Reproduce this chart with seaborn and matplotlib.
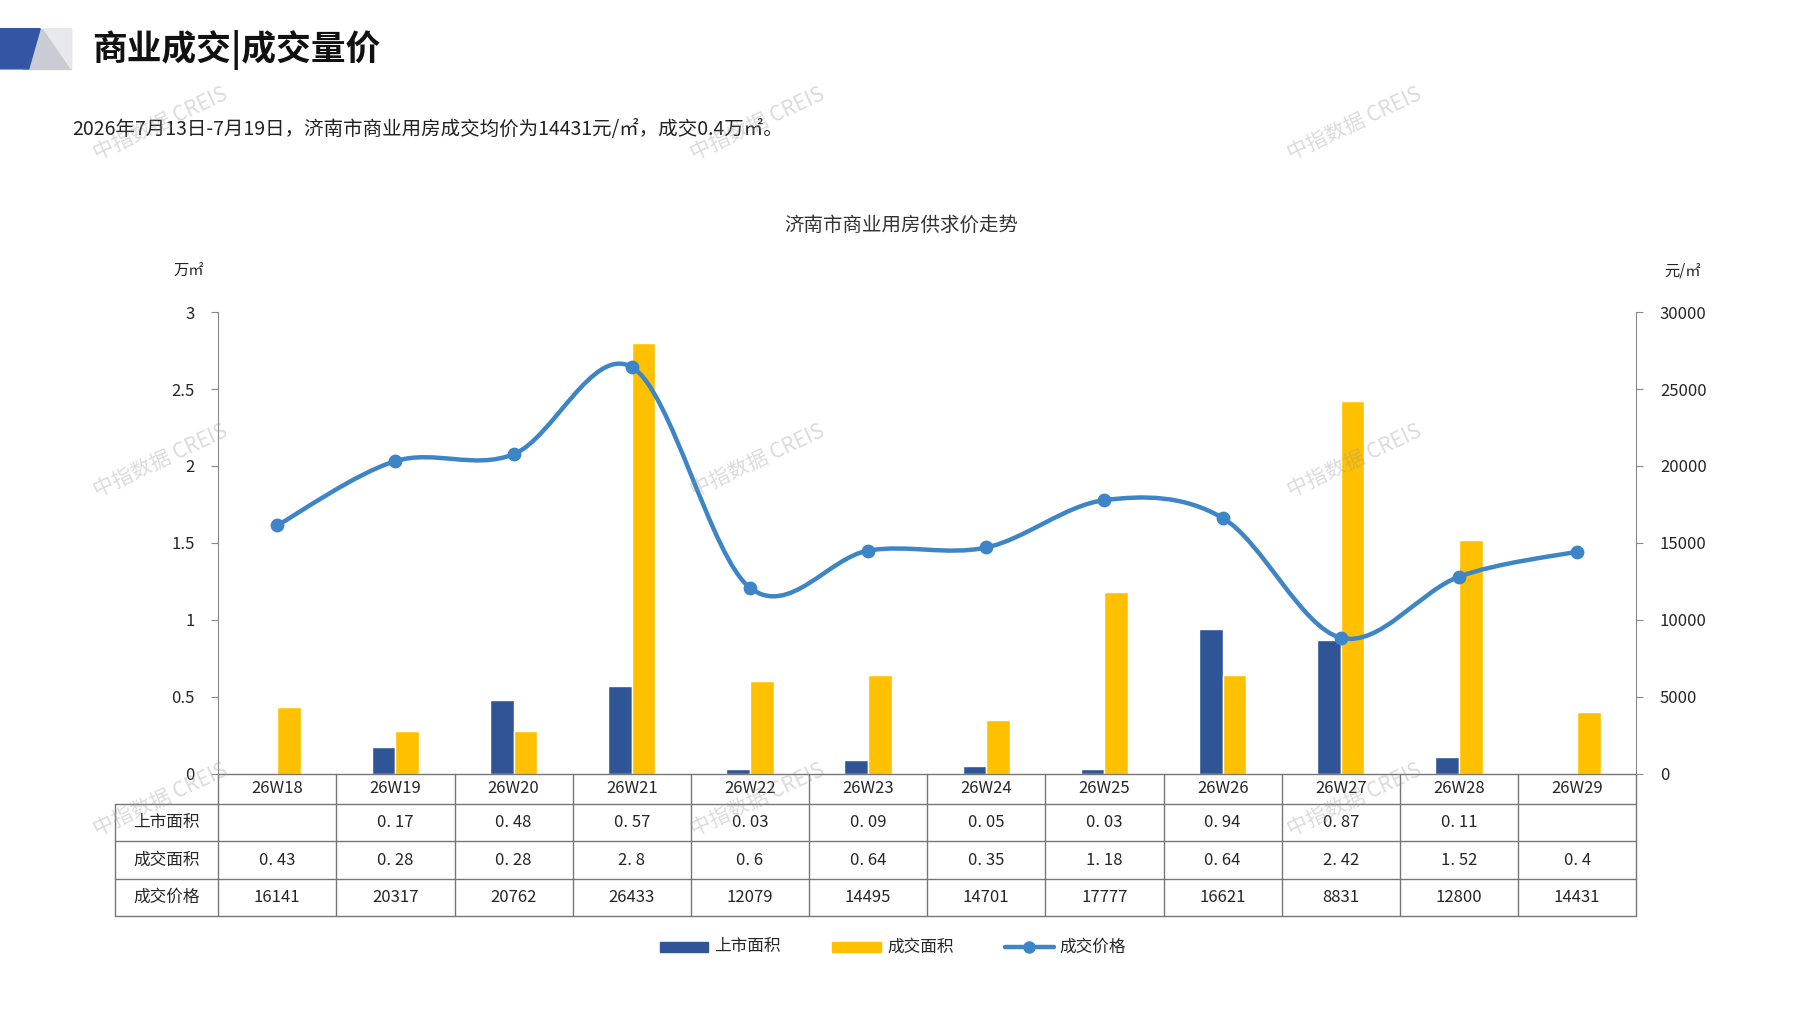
import numpy as np
import pandas as pd
import matplotlib
matplotlib.use('Agg')
import matplotlib.pyplot as plt
from matplotlib.path import Path
from matplotlib.patches import PathPatch, Polygon
from matplotlib.lines import Line2D
import seaborn as sns

weeks = ['26W18', '26W19', '26W20', '26W21', '26W22', '26W23', '26W24', '26W25',
         '26W26', '26W27', '26W28', '26W29']
supply = [np.nan, 0.17, 0.48, 0.57, 0.03, 0.09, 0.05, 0.03, 0.94, 0.87, 0.11, np.nan]
deal = [0.43, 0.28, 0.28, 2.8, 0.6, 0.64, 0.35, 1.18, 0.64, 2.42, 1.52, 0.4]
price = [16141, 20317, 20762, 26433, 12079, 14495, 14701, 17777, 16621, 8831, 12800, 14431]
row_names = ['上市面积', '成交面积', '成交价格']

BLUE = '#2F5597'
YELLOW = '#FFC000'
LINE = '#3D85C6'

sns.set_style('white')
plt.rcParams['font.family'] = ['Noto Sans CJK SC', 'DejaVu Sans']

fig = plt.figure(figsize=(17.97, 10.10), dpi=100)
W, H = 1565, 880
def fx(x): return x / W
def fy(y): return 1 - y / H

# header
fig.patches.append(Polygon([[fx(20), fy(25)], [fx(62), fy(25)], [fx(62), fy(60)], [fx(20), fy(60)]],
                           closed=True, transform=fig.transFigure, color='#C9CCD3', zorder=0))
fig.patches.append(Polygon([[fx(38), fy(25)], [fx(62), fy(60)], [fx(62), fy(25)]],
                           closed=True, transform=fig.transFigure, color='#E8E9EC'))
fig.patches.append(Polygon([[0, fy(25)], [fx(35), fy(25)], [fx(25), fy(60)], [0, fy(60)]],
                           closed=True, transform=fig.transFigure, color='#3355A5'))
fig.text(fx(80), fy(44), '商业成交|成交量价', fontsize=25, va='center', color='#111111', fontweight='bold')
fig.text(fx(63), fy(113), '2026年7月13日-7月19日，济南市商业用房成交均价为14431元/㎡，成交0.4万㎡。',
         fontsize=14, va='center', color='#222222')
fig.text(fx(785), fy(196), '济南市商业用房供求价走势', fontsize=14, ha='center', va='center', color='#333333')

ax = fig.add_axes([fx(190), fy(674), fx(1425) - fx(190), fy(272) - fy(674)])
df = pd.DataFrame({'week': weeks * 2, 'val': supply + deal,
                   'kind': ['上市面积'] * 12 + ['成交面积'] * 12})
sns.barplot(data=df, x='week', y='val', hue='kind', palette=[BLUE, YELLOW],
            width=0.40, ax=ax, legend=False, saturation=1)
ax.set_xlim(-0.5, 11.5)
ax.set_ylim(0, 3)
ax.set_yticks([0, 0.5, 1, 1.5, 2, 2.5, 3])
ax.set_yticklabels(['0', '0.5', '1', '1.5', '2', '2.5', '3'])
ax.set_xticks([])
ax.set_xlabel('')
ax.set_ylabel('')
for s in ['top', 'right', 'bottom']:
    ax.spines[s].set_visible(False)
ax.spines['left'].set_color('#888888')
ax.tick_params(axis='y', length=5, color='#888888', labelsize=12, pad=12, left=True)
ax.text(-0.01, 1.08, '万㎡', transform=ax.transAxes, fontsize=11, ha='right')

ax2 = ax.twinx()
ax2.set_ylim(0, 30000)
ax2.set_yticks(range(0, 30001, 5000))
for s in ['top', 'left', 'bottom']:
    ax2.spines[s].set_visible(False)
ax2.spines['right'].set_color('#888888')
ax2.tick_params(axis='y', length=5, color='#888888', labelsize=12, pad=12, right=True)
ax2.text(1.02, 1.08, '元/㎡', transform=ax2.transAxes, fontsize=11, ha='left')

# smoothed price line
xs = np.arange(len(price), dtype=float)
ys = np.array(price, dtype=float)
verts = [(xs[0], ys[0])]
codes = [Path.MOVETO]
for i in range(len(xs) - 1):
    p0 = np.array([xs[max(i - 1, 0)], ys[max(i - 1, 0)]])
    p1 = np.array([xs[i], ys[i]])
    p2 = np.array([xs[i + 1], ys[i + 1]])
    p3 = np.array([xs[min(i + 2, len(xs) - 1)], ys[min(i + 2, len(xs) - 1)]])
    c1 = p1 + (p2 - p0) / 6
    c2 = p2 - (p3 - p1) / 6
    verts += [tuple(c1), tuple(c2), tuple(p2)]
    codes += [Path.CURVE4] * 3
ax2.add_patch(PathPatch(Path(verts, codes), fill=False, edgecolor=LINE, lw=3.2, zorder=5))
ax2.scatter(xs, ys, s=80, color=LINE, zorder=6)

# table below axes
tr = ax.get_xaxis_transform()
bounds = [0, -0.065, -0.147, -0.229, -0.308]
left = -1.375
lc = '#777777'
for j, b in enumerate(bounds):
    x0 = -0.5 if j == 0 else left
    ax.add_line(Line2D([x0, 11.5], [b, b], transform=tr, color=lc, lw=1, clip_on=False))
ax.add_line(Line2D([left, left], [bounds[1], bounds[-1]], transform=tr, color=lc, lw=1, clip_on=False))
for k in range(13):
    ax.add_line(Line2D([k - 0.5, k - 0.5], [0, bounds[-1]], transform=tr, color=lc, lw=1, clip_on=False))
for i, w in enumerate(weeks):
    ax.text(i, (bounds[0] + bounds[1]) / 2, w, transform=tr, ha='center', va='center', fontsize=12)
rows = [supply, deal, price]
for r, (name, vals) in enumerate(zip(row_names, rows)):
    yc = (bounds[r + 1] + bounds[r + 2]) / 2
    ax.text((left - 0.5) / 2, yc, name, transform=tr, ha='center', va='center', fontsize=12)
    for i, v in enumerate(vals):
        if isinstance(v, float) and np.isnan(v):
            continue
        s = str(v).replace('.', '. ') if r < 2 else str(int(v))
        ax.text(i, yc, s, transform=tr, ha='center', va='center', fontsize=12)

# legend
bh = 10 / 1010
fig.patches.append(plt.Rectangle((fx(575), fy(825) - bh / 2), fx(42), bh, transform=fig.transFigure, color=BLUE))
fig.text(fx(622), fy(825), '上市面积', fontsize=12, va='center')
fig.patches.append(plt.Rectangle((fx(725), fy(825) - bh / 2), fx(42), bh, transform=fig.transFigure, color=YELLOW))
fig.text(fx(773), fy(825), '成交面积', fontsize=12, va='center')
fig.lines.append(Line2D([fx(875), fx(918)], [fy(825), fy(825)], transform=fig.transFigure, color=LINE, lw=3.2))
fig.lines.append(Line2D([fx(896)], [fy(825)], transform=fig.transFigure, color=LINE, marker='o', ms=8))
fig.text(fx(923), fy(825), '成交价格', fontsize=12, va='center')

# watermarks
for wx in [140, 660, 1180]:
    for wy in [108, 402, 697]:
        fig.text(fx(wx), fy(wy), '中指数据 CREIS', fontsize=15, rotation=25, ha='center', va='center',
                 color='#999999', alpha=0.35, zorder=10)

fig.savefig('out.png', dpi=100)
